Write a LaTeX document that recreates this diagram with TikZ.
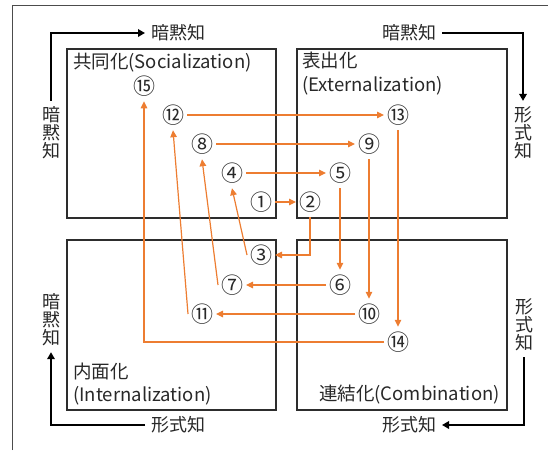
\documentclass[tikz,border=0pt]{standalone}
\usepackage{fontspec}
\setmainfont{Noto Sans CJK JP}
\usetikzlibrary{arrows.meta}
\definecolor{orng}{RGB}{237,125,49}
\definecolor{boxc}{RGB}{45,45,45}
\definecolor{txt}{RGB}{40,40,40}
\begin{document}
\begin{tikzpicture}[x=1pt,y=-1pt,
  every node/.style={font=\fontsize{18.5}{21}\selectfont, text=txt},
  quad/.style={draw=boxc, line width=1.3pt},
  num/.style={inner sep=0pt, outer xsep=3pt, outer ysep=5pt, font=\fontsize{22}{22}\selectfont},
  oarr/.style={draw=orng, line width=1.2pt, -{Triangle[length=7pt,width=6.5pt]}},
  barr/.style={draw=black, line width=2.6pt, -{Triangle[length=7pt,width=7.5pt]}},
  vlab/.style={align=center, inner sep=0pt, outer sep=6pt, font=\fontsize{18}{18}\selectfont},
  hlab/.style={inner sep=0pt, outer sep=6pt, font=\fontsize{18}{18}\selectfont},
  ttl/.style={inner sep=0pt, align=left, font=\fontsize{18.5}{23.5}\selectfont}]
\useasboundingbox (0,0) rectangle (554,450);
% outer frame
\draw[black!70, line width=0.8pt] (12,450) -- (12,5) -- (548,5);
% quadrants
\draw[quad] (67,49) rectangle (276,218);
\draw[quad] (297,49) rectangle (507,218);
\draw[quad] (67,240) rectangle (276,410);
\draw[quad] (297,240) rectangle (507,410);
% titles
\node[ttl, anchor=west] (tS) at (73,63) {共同化(Socialization)};
\node[ttl, anchor=west] (tE) at (302,73.5) {表出化\\(Externalization)};
\node[ttl, anchor=west] (tI) at (73,384) {内面化\\(Internalization)};
\node[ttl, anchor=east] (tC) at (500,395) {連結化(Combination)};
% numbers
\node[num] (n1) at (261,202) {①};
\node[num] (n2) at (310,202) {②};
\node[num] (n3) at (261,255) {③};
\node[num] (n4) at (232,173) {④};
\node[num] (n5) at (340,173) {⑤};
\node[num] (n6) at (340,285) {⑥};
\node[num] (n7) at (232,285) {⑦};
\node[num] (n8) at (202,144) {⑧};
\node[num] (n9) at (369,144) {⑨};
\node[num] (n10) at (369,314) {⑩};
\node[num] (n11) at (202,314) {⑪};
\node[num] (n12) at (173,115) {⑫};
\node[num] (n13) at (398,115) {⑬};
\node[num] (n14) at (398,342) {⑭};
\node[num] (n15) at (144,86) {⑮};
% orange arrows
\draw[oarr] (n1.east) -- (n2.west);
\draw[oarr] (n2.south) |- (n3.east);
\draw[oarr] (n3.west) -- (n4.south);
\draw[oarr] (n4.east) -- (n5.west);
\draw[oarr] (n5.south) -- (n6.north);
\draw[oarr] (n6.west) -- (n7.east);
\draw[oarr] (n7.west) -- (n8.south);
\draw[oarr] (n8.east) -- (n9.west);
\draw[oarr] (n9.south) -- (n10.north);
\draw[oarr] (n10.west) -- (n11.east);
\draw[oarr] (n11.west) -- (n12.south);
\draw[oarr] (n12.east) -- (n13.west);
\draw[oarr] (n13.south) -- (n14.north);
\draw[oarr] (n14.west) -| (n15.south);
% outer labels
\node[vlab] (v1) at (51,133) {暗\\黙\\知};
\node[hlab] (h1) at (178,33) {暗黙知};
\node[hlab] (h2) at (409,33) {暗黙知};
\node[vlab] (v2) at (523,133) {形\\式\\知};
\node[vlab] (v3) at (524,325) {形\\式\\知};
\node[hlab] (h3) at (409,425) {形式知};
\node[hlab] (h4) at (178,425) {形式知};
\node[vlab] (v4) at (51,320) {暗\\黙\\知};
% black arrows
\draw[barr] (v1.north) |- (h1.west);
\draw[barr] (h2.east) -| (v2.north);
\draw[barr] (v3.south) |- (h3.east);
\draw[barr] (h4.west) -| (v4.south);
\end{tikzpicture}
\end{document}
